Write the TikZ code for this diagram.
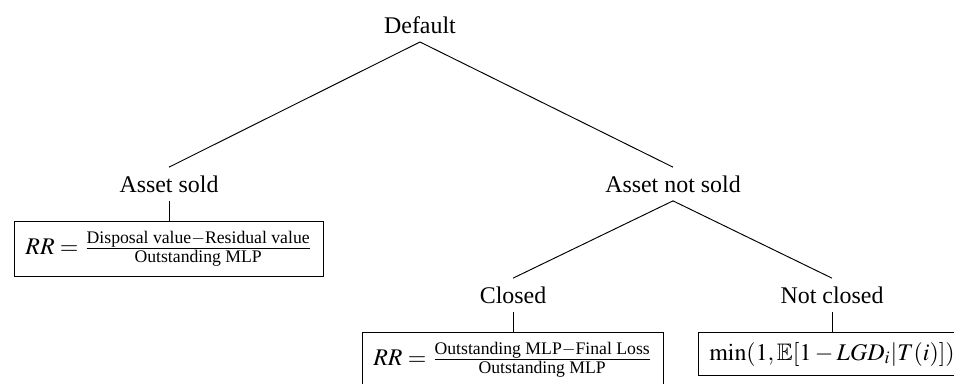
\documentclass[tikz,border=0pt]{standalone}
\usepackage{amsmath}
\usepackage{amssymb}
\usepackage{mathptmx}
\usepackage[no-math]{fontspec}
\setmainfont{Liberation Serif}
\usepackage{tikz}
\usetikzlibrary{positioning}

\begin{document}
\begin{tikzpicture}[x=0.4184pt, y=-0.4184pt,
  rrbox/.style={draw, rectangle, inner xsep=4.5pt, inner ysep=4pt}]

  \useasboundingbox (0,0) rectangle (954,383);

  %% tree labels
  \node (default)   at (420,  25) {Default};
  \node (sold)      at (169, 184) {Asset sold};
  \node (notsold)   at (673, 184) {Asset not sold};
  \node (closed)    at (513, 295) {Closed};
  \node (notclosed) at (832, 295) {Not closed};

  %% recovery rates
  \node[rrbox, below=8.5pt of sold] (rrsold)
    {$RR = \frac{\text{Disposal value}-\text{Residual value}}{\text{Outstanding MLP}}$};
  \node[rrbox, below=8.5pt of closed] (rrclosed)
    {$RR = \frac{\text{Outstanding MLP}-\text{Final Loss}}{\text{Outstanding MLP}}$};
  \node[rrbox, below=8.5pt of notclosed] (rrnotclosed)
    {$\min(1,\mathbb{E}[1-LGD_i|T(i)])$};

  \draw (default.south) -- (sold.north);    % Default->sold
  \draw (default.south) -- (notsold.north); % Default->not sold
  \draw (notsold.south) -- (closed.north);
  \draw (notsold.south) -- (notclosed.north);

  \draw (sold.south) -- (rrsold.north);
  \draw (closed.south) -- (rrclosed.north);
  \draw (notclosed.south) -- (rrnotclosed.north);

\end{tikzpicture}
\end{document}
